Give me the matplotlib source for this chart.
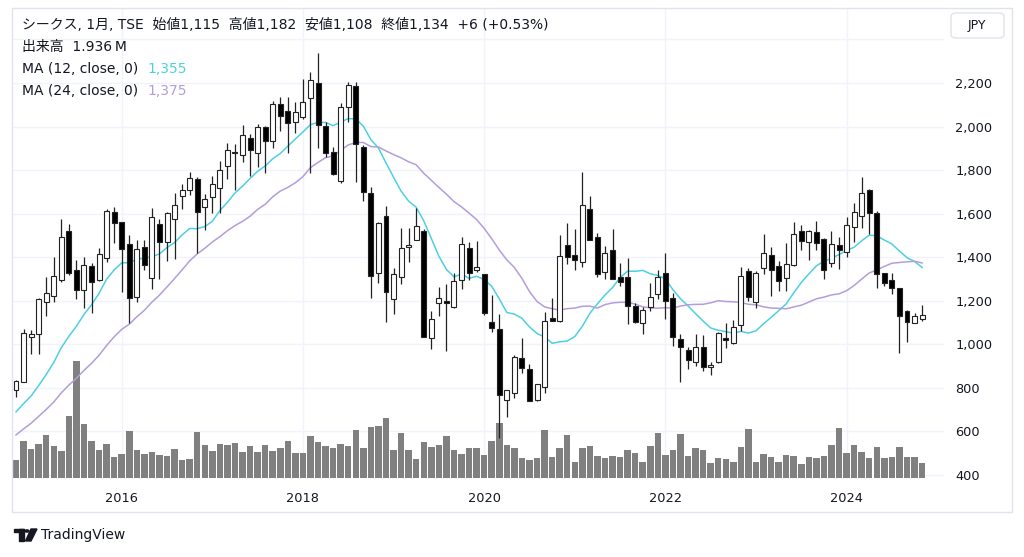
import pandas as pd
import matplotlib.pyplot as plt
import matplotlib.transforms as mtransforms
from matplotlib.patches import Rectangle, FancyBboxPatch, Circle, Polygon

plt.rcParams['font.family'] = ['DejaVu Sans', 'Noto Sans CJK JP']

# monthly candles, Nov 2014 - Nov 2024
months = pd.period_range('2014-11', periods=121, freq='M')

opens = [790, 829, 1034, 1046, 1193, 1223, 1294, 1520, 1340, 1248, 1361, 1294,
         1395, 1609, 1560, 1459, 1216, 1448, 1303, 1554, 1471, 1574, 1681, 1707,
         1759, 1632, 1675, 1717, 1820, 1883, 1871, 1948, 1877, 1997, 1932, 2104,
         2073, 2020, 2046, 2130, 2202, 2004, 1882, 1752, 2088, 2186, 1908, 1693,
         1326, 1591, 1208, 1311, 1447, 1479, 1522, 1031, 1188, 1200, 1173, 1295,
         1441, 1341, 1323, 1104, 1069, 744, 775, 937, 887, 744, 805, 1122,
         1109, 1456, 1412, 1379, 1623, 1491, 1331, 1432, 1308, 1308, 1178, 1097,
         1173, 1231, 1326, 1211, 1025, 974, 920, 986, 895, 920, 1028, 1005,
         1089, 1338, 1196, 1349, 1410, 1360, 1303, 1363, 1520, 1471, 1517, 1482,
         1375, 1456, 1425, 1537, 1591, 1709, 1604, 1326, 1295, 1257, 1153, 1097,
         1115]
highs = [835, 1070, 1066, 1214, 1308, 1400, 1577, 1553, 1387, 1400, 1372, 1444,
         1620, 1629, 1564, 1502, 1479, 1479, 1625, 1577, 1606, 1696, 1736, 1790,
         1770, 1689, 1773, 1843, 1926, 1920, 2007, 1966, 2010, 2004, 2119, 2137,
         2137, 2114, 2217, 2249, 2336, 2022, 1905, 2107, 2206, 2206, 1915, 1724,
         1560, 1635, 1349, 1533, 1533, 1627, 1530, 1155, 1265, 1277, 1326, 1491,
         1471, 1476, 1325, 1227, 1139, 790, 951, 1028, 910, 818, 1147, 1211,
         1502, 1556, 1528, 1793, 1681, 1510, 1452, 1528, 1372, 1395, 1190, 1173,
         1280, 1341, 1418, 1234, 1047, 989, 1047, 1043, 920, 1055, 1097, 1112,
         1354, 1349, 1336, 1505, 1446, 1382, 1464, 1560, 1548, 1525, 1566, 1487,
         1520, 1491, 1583, 1650, 1767, 1712, 1614, 1329, 1326, 1257, 1158, 1142,
         1182]
lows = [757, 825, 956, 956, 1132, 1194, 1288, 1318, 1208, 1165, 1145, 1290,
        1380, 1464, 1242, 1099, 1193, 1341, 1253, 1300, 1384, 1393, 1620, 1686,
        1418, 1525, 1602, 1604, 1758, 1709, 1839, 1774, 1816, 1785, 1900, 1981,
        1877, 1969, 2035, 1785, 1900, 1862, 1778, 1742, 2022, 1747, 1660, 1211,
        1283, 1101, 1139, 1277, 1377, 1477, 1032, 979, 1130, 969, 1165, 1253,
        1295, 1334, 1135, 1058, 568, 665, 752, 867, 740, 742, 778, 1106,
        1101, 1369, 1341, 1354, 1479, 1311, 1299, 1300, 1268, 1093, 1097, 1047,
        1154, 1207, 1115, 992, 829, 885, 900, 879, 859, 912, 985, 1000,
        1063, 1200, 1165, 1322, 1222, 1246, 1246, 1360, 1433, 1387, 1433, 1300,
        1354, 1345, 1402, 1471, 1533, 1507, 1257, 1268, 1230, 962, 1012, 1097,
        1108]
closes = [832, 1051, 1046, 1208, 1234, 1312, 1494, 1326, 1249, 1364, 1285, 1413,
          1612, 1557, 1438, 1211, 1436, 1364, 1583, 1470, 1602, 1638, 1707, 1764,
          1606, 1666, 1735, 1802, 1891, 1877, 1960, 1891, 1997, 1934, 2104, 2050,
          2016, 2065, 2113, 2212, 2006, 1880, 1782, 2088, 2189, 1919, 1698, 1314,
          1556, 1242, 1325, 1444, 1455, 1545, 1032, 1116, 1214, 1188, 1291, 1459,
          1329, 1354, 1142, 1073, 767, 790, 940, 890, 740, 818, 1109, 1106,
          1407, 1400, 1387, 1640, 1479, 1323, 1418, 1300, 1288, 1176, 1101, 1156,
          1219, 1311, 1200, 1035, 986, 928, 989, 895, 906, 1051, 1020, 1078,
          1315, 1216, 1329, 1418, 1341, 1292, 1367, 1507, 1476, 1520, 1464, 1341,
          1461, 1433, 1547, 1606, 1693, 1604, 1322, 1280, 1257, 1132, 1101, 1128,
          1134]
# volume, millions of shares
volumes = [2.32, 4.74, 3.78, 4.43, 5.55, 4.17, 3.49, 7.97, 15.07, 7.01, 4.82, 3.61,
           4.43, 2.75, 3.14, 6.11, 3.65, 3.14, 3.32, 2.97, 2.84, 3.74, 2.36, 2.45,
           5.90, 4.30, 3.49, 4.39, 4.30, 4.56, 3.36, 4.13, 3.36, 4.30, 3.49, 3.91,
           4.78, 3.27, 3.27, 5.42, 4.65, 4.13, 3.83, 4.35, 4.17, 6.16, 3.83, 6.62,
           6.71, 7.71, 3.65, 5.81, 3.58, 2.45, 4.69, 4.00, 4.22, 5.42, 3.58, 3.06,
           3.91, 3.91, 2.93, 4.78, 7.10, 4.22, 3.83, 2.62, 2.29, 2.54, 6.24, 2.71,
           3.83, 5.51, 2.07, 3.91, 4.09, 2.80, 2.62, 2.80, 2.71, 3.58, 3.19, 2.07,
           4.13, 5.85, 2.97, 3.58, 5.64, 2.84, 3.91, 3.61, 1.98, 2.54, 2.41, 2.07,
           4.04, 6.29, 2.07, 3.06, 2.75, 2.07, 3.03, 2.84, 1.81, 2.67, 2.58, 2.84,
           4.22, 6.46, 3.23, 4.30, 3.40, 2.58, 4.04, 2.58, 2.75, 3.96, 2.75, 2.67,
           1.936]
# closes before the visible window (Dec 2012 - Oct 2014), only to warm up the MAs
prior_closes = [390, 420, 450, 470, 500, 480, 470, 490, 500, 510, 520, 536,
                600, 620, 640, 620, 650, 680, 700, 690, 720, 750, 778]

year_ticks = ['2016', '2018', '2020', '2022', '2024']
price_ticks = list(range(400, 2201, 200))

all_closes = pd.Series(prior_closes + closes)
ma12 = all_closes.rolling(12).mean().to_numpy()[len(prior_closes):]
ma24 = all_closes.rolling(24).mean().to_numpy()[len(prior_closes):]

W, H = 1024, 557
fig = plt.figure(figsize=(W / 100, H / 100), dpi=100)
L, R, T, B = 12, 944, 8, 478
ax = fig.add_axes([L / W, 1 - B / H, (R - L) / W, (B - T) / H])
axv = ax.twinx()
ax.set_zorder(axv.get_zorder() + 1)
ax.patch.set_visible(False)

x = list(range(len(months)))
ax.set_xlim(-0.53, 122.9)
ax.set_ylim(386.2, 2544.5)
axv.set_ylim(0, 60.7)

# grid (kept in the back layer, under the volume bars)
grid_c = '#f0f3fa'
trans = mtransforms.blended_transform_factory(axv.transAxes, ax.transData)
for p in range(400, 2401, 200):
    axv.plot([0, 1], [p, p], transform=trans, color=grid_c, lw=1, zorder=0)
tick_idx = [i for i, m in enumerate(months) if m.month == 1 and str(m.year) in year_ticks]
for i in tick_idx:
    axv.axvline(i, color=grid_c, lw=1, zorder=0)

# volume
axv.bar(x, volumes, width=0.86, color='#808080', zorder=1)

# moving averages
ax.plot(x, ma12, color='#4dd0e1', lw=1.1, zorder=2)
ax.plot(x, ma24, color='#b39ddb', lw=1.1, zorder=2)

# candles
for i in x:
    o, h, l, c = opens[i], highs[i], lows[i], closes[i]
    ax.vlines(i, l, h, color='#222222', lw=0.9, zorder=3)
    up = c >= o
    bottom = min(o, c)
    height = max(abs(c - o), 3)
    ax.bar(i, height, bottom=bottom, width=0.66,
           facecolor='white' if up else 'black', edgecolor='#222222',
           linewidth=0.8, zorder=4)

ax.set_xticks(tick_idx)
ax.set_xticklabels(year_ticks)
ax.yaxis.tick_right()
ax.set_yticks(price_ticks)
ax.set_yticklabels([f'{p:,}' for p in price_ticks])
ax.tick_params(axis='x', length=0, pad=10, labelsize=9.3, labelcolor='#131722')
ax.tick_params(axis='y', length=0, pad=8, labelsize=9.3, labelcolor='#131722')
axv.set_yticks([])
for a in (ax, axv):
    for s in a.spines.values():
        s.set_visible(False)

# panel frame and currency box
fig.patches.append(Rectangle((L / W, 1 - 512 / H), (1012 - L) / W, (512 - T) / H,
                             transform=fig.transFigure, fill=False,
                             edgecolor='#e0e3eb', lw=1))
fig.patches.append(FancyBboxPatch((951 / W, 1 - 38 / H), 53 / W, 25 / H,
                                  boxstyle='round,pad=0,rounding_size=0.006',
                                  transform=fig.transFigure, facecolor='white',
                                  edgecolor='#e0e3eb', lw=1))
fig.text(977 / W, 1 - 26 / H, 'JPY', ha='center', va='center', fontsize=9, color='#131722')

# legend texts
tc = '#131722'
fs = 10
fig.text(22 / W, 1 - 25 / H,
         'シークス, 1月, TSE  始値1,115  高値1,182  安値1,108  終値1,134  +6 (+0.53%)',
         ha='left', va='center', fontsize=fs, color=tc)
fig.text(22 / W, 1 - 47 / H, '出来高  1.936\u2009M', ha='left', va='center', fontsize=fs, color=tc)
fig.text(22 / W, 1 - 69 / H, 'MA (12, close, 0)', ha='left', va='center', fontsize=fs, color=tc)
fig.text(147 / W, 1 - 69 / H, '1,355', ha='left', va='center', fontsize=fs, color='#4dd0e1')
fig.text(22 / W, 1 - 91 / H, 'MA (24, close, 0)', ha='left', va='center', fontsize=fs, color=tc)
fig.text(147 / W, 1 - 91 / H, '1,375', ha='left', va='center', fontsize=fs, color='#b39ddb')

# TradingView mark
fig.patches.append(Rectangle((14 / W, 1 - 532 / H), 10 / W, 3.5 / H, transform=fig.transFigure, color='#131722'))
fig.patches.append(Rectangle((19 / W, 1 - 541 / H), 4.5 / W, 12 / H, transform=fig.transFigure, color='#131722'))
fig.patches.append(Circle((27 / W, 1 - 531 / H), 2 / W, transform=fig.transFigure, color='#131722'))
fig.patches.append(Polygon([(31 / W, 1 - 529 / H), (37 / W, 1 - 529 / H), (31 / W, 1 - 541 / H), (25.5 / W, 1 - 541 / H)],
                           closed=True, transform=fig.transFigure, color='#131722'))
fig.text(41 / W, 1 - 535 / H, 'TradingView', ha='left', va='center', fontsize=10, color='#131722')

fig.savefig('out.png', dpi=100)
